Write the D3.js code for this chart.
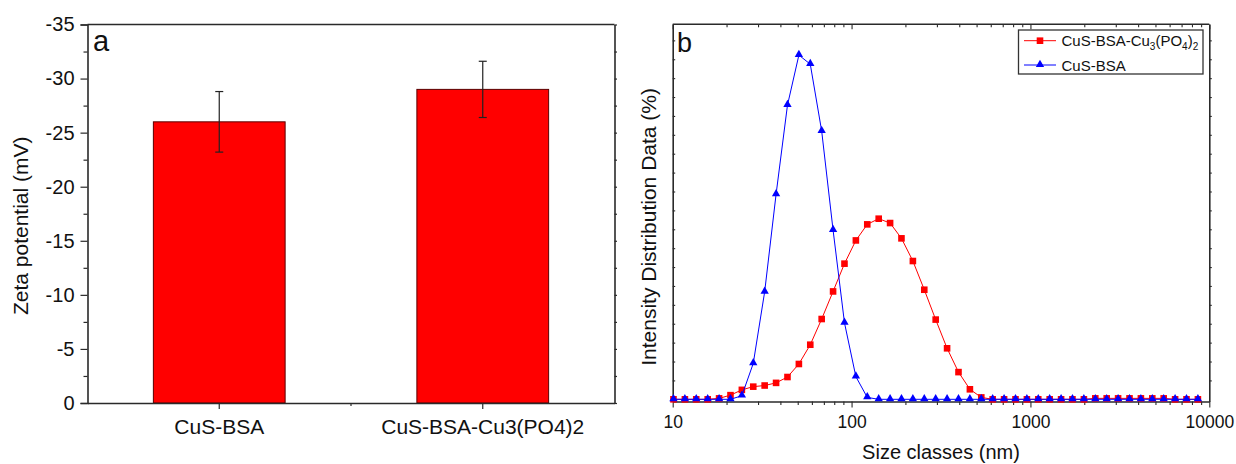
<!DOCTYPE html>
<html><head><meta charset="utf-8">
<script src="https://cdn.jsdelivr.net/npm/d3@7"></script>
<style>
body{margin:0;background:#fff}
svg{display:block}
text{font-family:"Liberation Sans",Arial,sans-serif;fill:#111}
</style>
</head><body>
<svg id="c" width="1236" height="464"></svg>
<script>
// ---------- Panel a data ----------
const barCategories = ["CuS-BSA", "CuS-BSA-Cu3(PO4)2"];
const barValues = [-26.0, -29.0];
const barErrors = [2.8, 2.6];
const barYTicks = [0, -5, -10, -15, -20, -25, -30, -35];
const barYTickLabels = ["0", "-5", "-10", "-15", "-20", "-25", "-30", "-35"];
const barYMinorTicks = [-2.5, -7.5, -12.5, -17.5, -22.5, -27.5, -32.5];

// ---------- Panel b data ----------
const sizeClasses = [10.1, 11.7, 13.54, 15.69, 18.17, 21.04, 24.36, 28.21, 32.67, 37.84,
  43.82, 50.75, 58.77, 68.06, 78.82, 91.28, 105.7, 122.4, 141.8, 164.2,
  190.1, 220.2, 255.0, 295.3, 342.0, 396.1, 458.7, 531.2, 615.1, 712.4,
  825.0, 955.4, 1106, 1281, 1484, 1718, 1990, 2305, 2669, 3091,
  3580, 4145, 4801, 5560, 6439, 7456, 8635];
const redSeries = [0, 0, 0, 0, 0.05, 0.22, 0.5, 0.67, 0.73, 0.87,
  1.18, 1.87, 2.89, 4.25, 5.71, 7.18, 8.41, 9.26, 9.56, 9.33,
  8.52, 7.32, 5.80, 4.22, 2.70, 1.44, 0.53, 0.1, 0, 0,
  0, 0, 0, 0, 0, 0, 0, 0.05, 0.05, 0.05,
  0.05, 0.05, 0.05, 0.05, 0, 0, 0];
const blueSeries = [0, 0, 0, 0, 0, 0, 0.19, 1.9, 5.69, 10.85,
  15.57, 18.22, 17.74, 14.2, 8.96, 4.05, 1.2, 0.1, 0, 0,
  0, 0, 0, 0, 0, 0, 0, 0, 0, 0,
  0, 0, 0, 0, 0, 0, 0, 0, 0, 0,
  0, 0, 0, 0, 0, 0, 0];
const seriesNames = ["CuS-BSA-Cu3(PO4)2", "CuS-BSA"];
const sizeMajorTicks = [10, 100, 1000, 10000];
const sizeTickLabels = ["10", "100", "1000", "10000"];
const intensityDomain = [-0.116, 19.85];
const intensityTicks = d3.range(1, 20, 1);

const svg = d3.select("#c");
const AX = "#2a2a2a";

// =============== Panel a ===============
const A = {l: 87.5, r: 614.5, t: 24.5, b: 403};
const xA = d3.scaleBand().domain(barCategories).range([A.l, A.r]).paddingInner(0.5).paddingOuter(0.25);
const yA = d3.scaleLinear().domain([0, -35]).range([A.b, A.t]);
const gA = svg.append("g");

gA.selectAll("rect.bar").data(barCategories).join("rect")
  .attr("class", "bar")
  .attr("x", d => xA(d))
  .attr("width", xA.bandwidth())
  .attr("y", (d, i) => yA(barValues[i]))
  .attr("height", (d, i) => yA(0) - yA(barValues[i]))
  .attr("fill", "#ff0000").attr("stroke", "#5a0000").attr("stroke-width", 1);

// error bars
barCategories.forEach((c, i) => {
  const cx = xA(c) + xA.bandwidth() / 2;
  const y1 = yA(barValues[i] - barErrors[i]), y2 = yA(barValues[i] + barErrors[i]);
  gA.append("line").attr("x1", cx).attr("x2", cx).attr("y1", y1).attr("y2", y2).attr("stroke", "#222").attr("stroke-width", 1.2);
  [y1, y2].forEach(y => gA.append("line").attr("x1", cx - 4).attr("x2", cx + 4).attr("y1", y).attr("y2", y).attr("stroke", "#222").attr("stroke-width", 1.2));
});

// left axis
const leftA = gA.append("g").attr("transform", `translate(${A.l},0)`)
  .call(d3.axisLeft(yA).tickValues(barYTicks).tickSize(7).tickPadding(6)
    .tickFormat((d, i) => barYTickLabels[i]));
leftA.selectAll("text").attr("font-size", 20).attr("fill", "#111");
const leftMinorA = gA.append("g").attr("transform", `translate(${A.l},0)`)
  .call(d3.axisLeft(yA).tickValues(barYMinorTicks).tickSize(4).tickFormat(""));
leftMinorA.select(".domain").remove();

// bottom axis
const botA = gA.append("g").attr("transform", `translate(0,${A.b})`)
  .call(d3.axisBottom(xA).tickSize(6).tickPadding(10).tickSizeOuter(0));
botA.selectAll("text").attr("font-size", 21).attr("fill", "#111");
// minor bottom tick between categories
gA.append("line").attr("x1", (A.l + A.r) / 2).attr("x2", (A.l + A.r) / 2)
  .attr("y1", A.b).attr("y2", A.b + 3).attr("stroke", AX).attr("stroke-width", 1.2);

// right axis (ticks outward, small)
const rightA = gA.append("g").attr("transform", `translate(${A.r},0)`)
  .call(d3.axisRight(yA).tickValues(barYTicks.concat(barYMinorTicks)).tickSize(2.5).tickFormat("").tickSizeOuter(0));
// top axis line
gA.append("line").attr("x1", A.l).attr("x2", A.r).attr("y1", A.t).attr("y2", A.t).attr("stroke", AX).attr("stroke-width", 1.5);

[leftA, leftMinorA, botA, rightA].forEach(g => {
  g.selectAll("line").attr("stroke", AX).attr("stroke-width", 1.2);
  g.select(".domain").attr("stroke", AX).attr("stroke-width", 1.6);
});

gA.append("text").attr("x", 93).attr("y", 51).attr("font-size", 29).text("a");
gA.append("text").attr("transform", `translate(28,${(A.t + A.b) / 2 + 12}) rotate(-90)`)
  .attr("text-anchor", "middle").attr("font-size", 21).text("Zeta potential (mV)");

// =============== Panel b ===============
const B = {l: 672.7, r: 1209.3, t: 24.3, b: 401.5};
const xB = d3.scaleLog().domain([10, 10000]).range([B.l, B.r]);
const yB = d3.scaleLinear().domain(intensityDomain).range([B.b, B.t]);
const gB = svg.append("g");

const minorLog = [];
[10, 100, 1000].forEach(dec => { for (let k = 2; k <= 9; k++) minorLog.push(dec * k); });

// frame lines
gB.append("line").attr("x1", B.l).attr("x2", B.r).attr("y1", B.t).attr("y2", B.t).attr("stroke", AX).attr("stroke-width", 1.5);

const botB = gB.append("g").attr("transform", `translate(0,${B.b})`)
  .call(d3.axisBottom(xB).tickValues(sizeMajorTicks).tickSize(6).tickPadding(8)
    .tickFormat((d, i) => sizeTickLabels[i]).tickSizeOuter(0));
botB.selectAll("text").attr("font-size", 17.5).attr("fill", "#111");
const botMinorB = gB.append("g").attr("transform", `translate(0,${B.b})`)
  .call(d3.axisBottom(xB).tickValues(minorLog).tickSize(3.5).tickFormat(""));
botMinorB.select(".domain").remove();
// top ticks inward
const topB = gB.append("g").attr("transform", `translate(0,${B.t})`)
  .call(d3.axisBottom(xB).tickValues(sizeMajorTicks).tickSize(5).tickFormat(""));
topB.select(".domain").remove();
const topMinorB = gB.append("g").attr("transform", `translate(0,${B.t})`)
  .call(d3.axisBottom(xB).tickValues(minorLog).tickSize(3).tickFormat(""));
topMinorB.select(".domain").remove();

const leftB = gB.append("g").attr("transform", `translate(${B.l},0)`)
  .call(d3.axisRight(yB).tickValues(intensityTicks).tickSize(2.5).tickFormat("").tickSizeOuter(0));
const rightB = gB.append("g").attr("transform", `translate(${B.r},0)`)
  .call(d3.axisRight(yB).tickValues(intensityTicks).tickSize(2.5).tickFormat("").tickSizeOuter(0));

[botB, botMinorB, topB, topMinorB, leftB, rightB].forEach(g => {
  g.selectAll("line").attr("stroke", AX).attr("stroke-width", 1.1);
  g.select(".domain").attr("stroke", AX).attr("stroke-width", 1.6);
});

// series
const redPts = sizeClasses.map((s, i) => [s, redSeries[i]]);
const bluePts = sizeClasses.map((s, i) => [s, blueSeries[i]]);
const line = d3.line().x(d => xB(d[0])).y(d => yB(d[1]));

gB.append("path").attr("d", line(redPts)).attr("fill", "none").attr("stroke", "#ff0000").attr("stroke-width", 1);
gB.selectAll("rect.sq").data(redPts).join("rect").attr("class", "sq")
  .attr("x", d => xB(d[0]) - 3.3).attr("y", d => yB(d[1]) - 3.3)
  .attr("width", 6.6).attr("height", 6.6).attr("fill", "#ff0000");

gB.append("path").attr("d", line(bluePts)).attr("fill", "none").attr("stroke", "#0000ff").attr("stroke-width", 1);
const tri = d3.symbol().type(d3.symbolTriangle).size(30);
gB.selectAll("path.tri").data(bluePts).join("path").attr("class", "tri")
  .attr("transform", d => `translate(${xB(d[0])},${yB(d[1]) - 0.5})`)
  .attr("d", tri).attr("fill", "#0000ff");

// legend
const lg = gB.append("g");
lg.append("rect").attr("x", 1018.5).attr("y", 30).attr("width", 184.5).attr("height", 44)
  .attr("fill", "#fff").attr("stroke", "#333").attr("stroke-width", 1.3);
lg.append("line").attr("x1", 1024).attr("x2", 1056).attr("y1", 40.7).attr("y2", 40.7).attr("stroke", "#ff0000").attr("stroke-width", 1);
lg.append("rect").attr("x", 1040 - 3.3).attr("y", 40.7 - 3.3).attr("width", 6.6).attr("height", 6.6).attr("fill", "#ff0000");
lg.append("line").attr("x1", 1024).attr("x2", 1056).attr("y1", 65).attr("y2", 65).attr("stroke", "#0000ff").attr("stroke-width", 1);
lg.append("path").attr("transform", "translate(1040,64.5)").attr("d", tri).attr("fill", "#0000ff");

const t1 = lg.append("text").attr("x", 1061.5).attr("y", 46).attr("font-size", 15);
t1.append("tspan").text("CuS-BSA-Cu");
t1.append("tspan").attr("font-size", 10).attr("dy", 4).text("3");
t1.append("tspan").attr("dy", -4).text("(PO");
t1.append("tspan").attr("font-size", 10).attr("dy", 4).text("4");
t1.append("tspan").attr("dy", -4).text(")");
t1.append("tspan").attr("font-size", 10).attr("dy", 4).text("2");
lg.append("text").attr("x", 1061.5).attr("y", 70.5).attr("font-size", 15).text(seriesNames[1]);

gB.append("text").attr("x", 677).attr("y", 51.5).attr("font-size", 27).text("b");
gB.append("text").attr("transform", `translate(656,${(B.t + B.b) / 2 + 14}) rotate(-90)`)
  .attr("text-anchor", "middle").attr("font-size", 21).text("Intensity Distribution Data (%)");
gB.append("text").attr("x", (B.l + B.r) / 2).attr("y", 459).attr("text-anchor", "middle")
  .attr("font-size", 20).text("Size classes (nm)");
</script>
</body></html>
